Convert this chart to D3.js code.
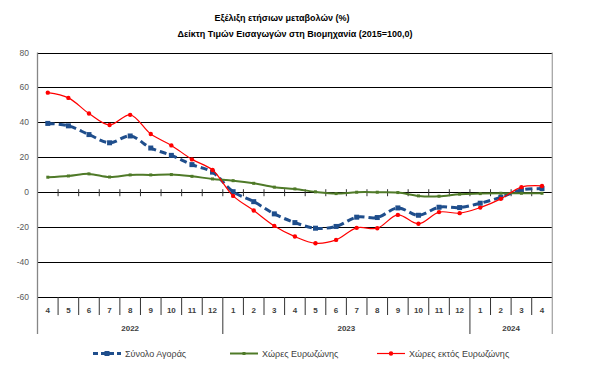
<!DOCTYPE html>
<html lang="el">
<head>
    <meta charset="UTF-8">
    <title>Εξέλιξη ετήσιων μεταβολών</title>
    <script src="https://d3js.org/d3.v7.min.js"></script>
    <style>
        body { margin: 0; background: #fff; }
        svg { font-family: "Liberation Sans", Arial, sans-serif; display: block; }
    </style>
</head>
<body>
    <div id="chart-container"></div>
    <script>
        // categories: month + year for each point
        const months = ["4","5","6","7","8","9","10","11","12",
                        "1","2","3","4","5","6","7","8","9","10","11","12",
                        "1","2","3","4"];
        const years = ["2022","2022","2022","2022","2022","2022","2022","2022","2022",
                       "2023","2023","2023","2023","2023","2023","2023","2023","2023","2023","2023","2023",
                       "2024","2024","2024","2024"];

        // series values (% yearly change)
        const totalMarket = [39.4, 38, 33, 28.3, 32.2, 25.3, 21.1, 15.8, 11.5,
                             0.3, -5.4, -12.4, -17.4, -20.6, -19.6, -14.3, -14.5, -9, -13.2, -8.6, -8.8,
                             -6.3, -2.9, 1.3, 2.1];
        const euroZone = [8.6, 9.3, 10.5, 8.7, 9.9, 9.9, 10.1, 9.1, 7.6,
                          6.6, 5.1, 2.9, 1.9, 0.2, -0.8, 0, 0, -0.2, -2.1, -2.3, -1.1,
                          -0.8, -0.6, -0.6, -0.6];
        const nonEuroZone = [57, 54, 45.1, 38.5, 44.3, 33.3, 26.8, 18.8, 12.7,
                             -2.1, -10.5, -19.3, -25.4, -29.2, -27.3, -20.4, -20.6, -13, -18.1, -11.4, -12,
                             -8.8, -3.8, 2.9, 3.6];
        const yTicks = [-60, -40, -20, 0, 20, 40, 60, 80];
        const seriesNames = ["Σύνολο Αγοράς", "Χώρες Ευρωζώνης", "Χώρες εκτός Ευρωζώνης"];

        const W = 600, H = 374;
        const plot = { left: 37.5, right: 552.3, top: 52.5, bottom: 297 };

        const svg = d3.select("#chart-container")
            .append("svg")
            .attr("width", W)
            .attr("height", H);

        const x = d3.scaleBand()
            .domain(d3.range(months.length))
            .range([plot.left, plot.right])
            .padding(0);
        const y = d3.scaleLinear()
            .domain([-60, 80])
            .range([plot.bottom, plot.top]);
        const cx = i => x(i) + x.bandwidth() / 2;

        // title
        svg.append("text")
            .attr("x", 282).attr("y", 21)
            .attr("text-anchor", "middle")
            .attr("font-size", 9).attr("font-weight", "bold")
            .attr("fill", "#000")
            .text("Εξέλιξη ετήσιων μεταβολών (%)");
        svg.append("text")
            .attr("x", 295).attr("y", 36.5)
            .attr("text-anchor", "middle")
            .attr("font-size", 9).attr("font-weight", "bold")
            .attr("fill", "#000")
            .text("Δείκτη Τιμών Εισαγωγών στη Βιομηχανία (2015=100,0)");

        // gridlines
        svg.append("g")
            .selectAll("line")
            .data(yTicks)
            .join("line")
            .attr("x1", plot.left).attr("x2", plot.right)
            .attr("y1", d => Math.round(y(d)) + 0.5)
            .attr("y2", d => Math.round(y(d)) + 0.5)
            .attr("stroke", "#000")
            .attr("stroke-width", 1);

        // y tick labels
        svg.append("g")
            .selectAll("text")
            .data(yTicks)
            .join("text")
            .attr("x", 29)
            .attr("y", d => y(d) + 3)
            .attr("text-anchor", "end")
            .attr("font-size", 8.5)
            .attr("fill", "#595959")
            .text(d => d);

        // ticks crossing zero line
        const bounds = d3.range(1, months.length);
        svg.append("g")
            .selectAll("line")
            .data(bounds)
            .join("line")
            .attr("x1", d => x(d)).attr("x2", d => x(d))
            .attr("y1", y(0) - 3).attr("y2", y(0) + 4)
            .attr("stroke", "#333")
            .attr("stroke-width", 1);

        // category separators below plot
        const yearStart = bounds.filter(i => years[i] !== years[i - 1]);
        svg.append("g")
            .selectAll("line")
            .data(bounds)
            .join("line")
            .attr("x1", d => x(d)).attr("x2", d => x(d))
            .attr("y1", plot.bottom)
            .attr("y2", d => yearStart.includes(d) ? 334 : 315)
            .attr("stroke", "#333")
            .attr("stroke-width", 1);

        // left axis and right border
        svg.append("line")
            .attr("x1", plot.left).attr("x2", plot.left)
            .attr("y1", plot.top).attr("y2", 334)
            .attr("stroke", "#868686").attr("stroke-width", 1.3);
        svg.append("line")
            .attr("x1", plot.right).attr("x2", plot.right)
            .attr("y1", plot.top).attr("y2", 334)
            .attr("stroke", "#a6a6a6").attr("stroke-width", 1.3);

        // month labels
        svg.append("g")
            .selectAll("text")
            .data(months)
            .join("text")
            .attr("x", (d, i) => cx(i))
            .attr("y", 313)
            .attr("text-anchor", "middle")
            .attr("font-size", 8)
            .attr("font-weight", "bold")
            .attr("fill", "#404040")
            .text(d => d);

        // year labels
        const yearGroups = d3.groups(d3.range(years.length), i => years[i]);
        svg.append("g")
            .selectAll("text")
            .data(yearGroups)
            .join("text")
            .attr("x", d => (x(d[1][0]) + x(d[1][d[1].length - 1]) + x.bandwidth()) / 2)
            .attr("y", 330.5)
            .attr("text-anchor", "middle")
            .attr("font-size", 8)
            .attr("font-weight", "bold")
            .attr("fill", "#404040")
            .text(d => d[0]);

        const line = d3.line()
            .x((d, i) => cx(i))
            .y(d => y(d))
            .curve(d3.curveCatmullRom.alpha(0.5));

        const styles = [
            { data: totalMarket, color: "#1F4E8C", width: 3, dash: "7,4", marker: "square", size: 5 },
            { data: euroZone, color: "#4F7A28", width: 2, dash: null, marker: "square", size: 3 },
            { data: nonEuroZone, color: "#FF0000", width: 1.2, dash: null, marker: "circle", size: 2.2 }
        ];

        styles.forEach(s => {
            svg.append("path")
                .datum(s.data)
                .attr("d", line)
                .attr("fill", "none")
                .attr("stroke", s.color)
                .attr("stroke-width", s.width)
                .attr("stroke-dasharray", s.dash);
            const g = svg.append("g");
            if (s.marker === "square") {
                g.selectAll("rect")
                    .data(s.data)
                    .join("rect")
                    .attr("x", (d, i) => cx(i) - s.size / 2)
                    .attr("y", d => y(d) - s.size / 2)
                    .attr("width", s.size).attr("height", s.size)
                    .attr("fill", s.color);
            } else {
                g.selectAll("circle")
                    .data(s.data)
                    .join("circle")
                    .attr("cx", (d, i) => cx(i))
                    .attr("cy", d => y(d))
                    .attr("r", s.size)
                    .attr("fill", s.color);
            }
        });

        // legend
        const legendX = [93, 230, 377];
        const legend = svg.append("g");
        styles.forEach((s, k) => {
            const lx = legendX[k], ly = 353.5;
            legend.append("line")
                .attr("x1", lx).attr("x2", lx + 28)
                .attr("y1", ly).attr("y2", ly)
                .attr("stroke", s.color)
                .attr("stroke-width", s.width)
                .attr("stroke-dasharray", s.dash ? "5,3" : null);
            if (s.marker === "square") {
                legend.append("rect")
                    .attr("x", lx + 14 - s.size / 2).attr("y", ly - s.size / 2)
                    .attr("width", s.size).attr("height", s.size)
                    .attr("fill", s.color);
            } else {
                legend.append("circle")
                    .attr("cx", lx + 14).attr("cy", ly).attr("r", s.size)
                    .attr("fill", s.color);
            }
            legend.append("text")
                .attr("x", lx + 32).attr("y", ly + 3.5)
                .attr("font-size", 9)
                .attr("fill", "#404040")
                .text(seriesNames[k]);
        });
    </script>
</body>
</html>
